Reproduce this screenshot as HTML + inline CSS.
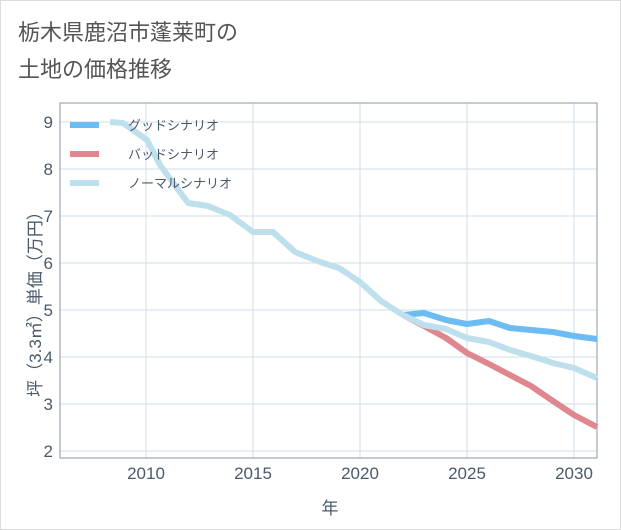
<!DOCTYPE html>
<html><head><meta charset="utf-8"><style>
body{margin:0;background:#fff;}
svg{display:block;font-family:"Liberation Sans","Noto Sans CJK JP",sans-serif;}
</style></head><body>
<svg width="621" height="530" viewBox="0 0 621 530">
<rect x="0.5" y="0.5" width="620" height="529" fill="#fff" stroke="#ddd"/>
<text x="18" y="40" font-size="22" fill="#555">栃木県鹿沼市蓬莱町の</text>
<text x="18" y="77" font-size="22" fill="#555">土地の価格推移</text>
<g stroke="#cfdde9" stroke-width="1">
<line x1="146" y1="103" x2="146" y2="458"/><line x1="253" y1="103" x2="253" y2="458"/>
<line x1="360" y1="103" x2="360" y2="458"/><line x1="467" y1="103" x2="467" y2="458"/>
<line x1="574" y1="103" x2="574" y2="458"/>
<line x1="60" y1="122" x2="597" y2="122"/><line x1="60" y1="169" x2="597" y2="169"/>
<line x1="60" y1="216" x2="597" y2="216"/><line x1="60" y1="263" x2="597" y2="263"/>
<line x1="60" y1="310" x2="597" y2="310"/><line x1="60" y1="357" x2="597" y2="357"/>
<line x1="60" y1="404" x2="597" y2="404"/><line x1="60" y1="451" x2="597" y2="451"/>
</g>
<rect x="60" y="103" width="537" height="355" fill="none" stroke="#8a96a3"/>
<g font-size="17" fill="#4a5a6a" text-anchor="end">
<text x="53" y="128">9</text><text x="53" y="175">8</text><text x="53" y="222">7</text>
<text x="53" y="269">6</text><text x="53" y="316">5</text><text x="53" y="363">4</text>
<text x="53" y="410">3</text><text x="53" y="457">2</text></g>
<g font-size="17" fill="#4a5a6a" text-anchor="middle">
<text x="146" y="479">2010</text><text x="253" y="479">2015</text><text x="360" y="479">2020</text>
<text x="467" y="479">2025</text><text x="574" y="479">2030</text>
<text x="330" y="514">年</text></g>
<text transform="translate(41,300) rotate(-90)" font-size="17" fill="#4a5a6a" text-anchor="middle">坪（3.3㎡）単価（万円）</text>
<g fill="none" stroke-width="6" stroke-linejoin="round">
<polyline stroke="#e0868e" points="403,315 424,326 446,338 467,353 489,364 510,375 531,386 553,401 574,415 597,427"/>
<polyline stroke="#6bbcf3" points="403,315 424,313 446,320 467,324 489,321 510,328 531,330 553,332 574,336 597,339"/>
<polyline stroke="#bde0ec" points="110,122 123,123 147,140 160,165 188,203 208,206 230,215 253,232 273,232 295,252 320,262 339,268 360,282 381,301 403,315 424,325 446,329 467,338 489,342 510,350 531,356 553,363 574,368 597,378"/>
</g>
<g stroke-width="6">
<line x1="70" y1="125" x2="99" y2="125" stroke="#6bbcf3"/>
<line x1="70" y1="154" x2="99" y2="154" stroke="#e0868e"/>
<line x1="70" y1="183" x2="99" y2="183" stroke="#bde0ec"/>
</g>
<g font-size="13" fill="#4a5a6a">
<text x="128" y="130">グッドシナリオ</text>
<text x="128" y="159">バッドシナリオ</text>
<text x="128" y="188">ノーマルシナリオ</text></g>
</svg>
</body></html>
